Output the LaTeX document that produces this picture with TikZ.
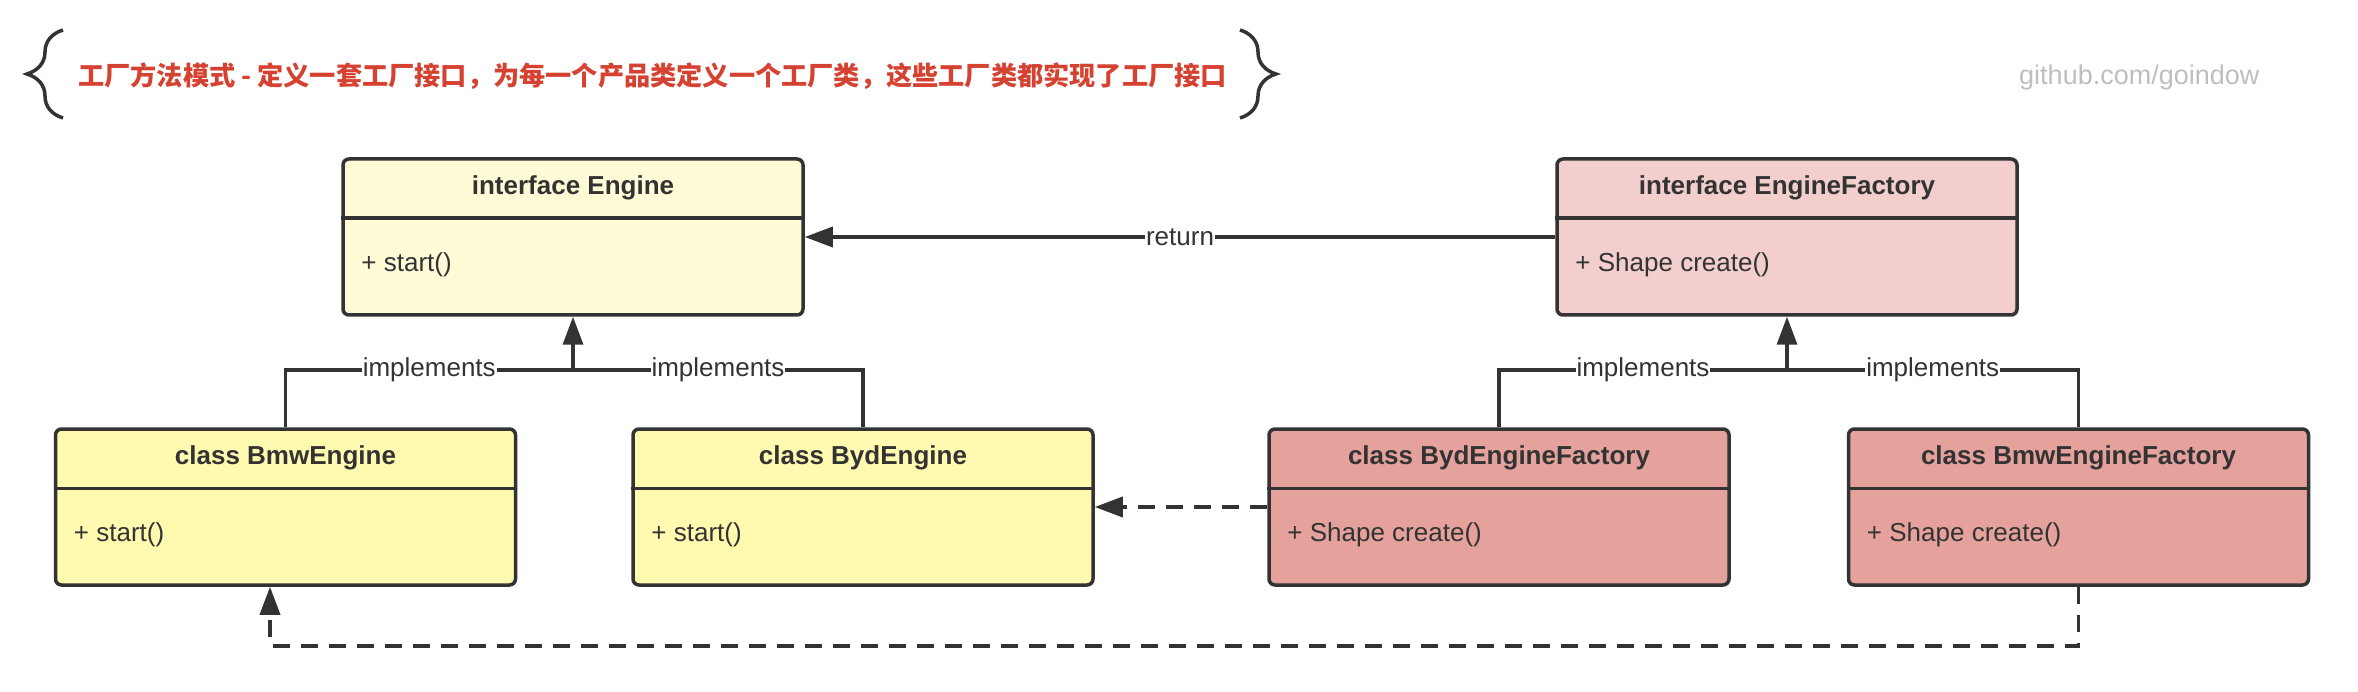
\documentclass[tikz,border=0pt]{standalone}
\usepackage{fontspec}
\setmainfont{Liberation Sans}
\newfontfamily\cjk{Noto Sans CJK SC}
\usetikzlibrary{positioning, arrows.meta, decorations.pathreplacing}
\definecolor{linegray}{RGB}{51,51,51}
\definecolor{ifaceyellow}{RGB}{255,251,214}
\definecolor{classyellow}{RGB}{255,250,175}
\definecolor{ifacered}{RGB}{242,206,205}
\definecolor{classred}{RGB}{229,161,156}
\definecolor{titlered}{RGB}{214,66,50}
\definecolor{markgray}{RGB}{190,190,190}
\tikzset{
>={Triangle[length=28pt,width=20pt]}, % filled triangle heads
every node/.style={font=\fontsize{26}{30}\selectfont, text=linegray},
classbox/.style={draw=linegray, line width=3.5pt, rounded corners=6pt, minimum width=460pt, minimum height=156pt, inner sep=0pt},
classname/.style={font=\fontsize{26}{30}\selectfont\bfseries},
member/.style={anchor=west, inner sep=0pt},
link/.style={draw=linegray, line width=3.5pt},
dep/.style={link, dash pattern=on 17pt off 11pt},
tag/.style={fill=white, inner sep=1pt},
}

\begin{document}
\begin{tikzpicture}[x=1pt, y=-1pt]
\useasboundingbox (0,0) rectangle (2358,692);

% heading
\node[anchor=west, inner sep=0pt, text=titlered, font=\cjk\bfseries\fontsize{26.2}{30}\selectfont] (headline) at (78,76) {工厂方法模式 - 定义一套工厂接口，为每一个产品类定义一个工厂类，这些工厂类都实现了工厂接口};
\draw[link, decorate, decoration={brace, amplitude=36pt}] (63,118) -- (63,30);
\draw[link, decorate, decoration={brace, amplitude=36pt}] (1240,30) -- (1240,118);
\node[anchor=west, inner sep=0pt, text=markgray, font=\fontsize{27}{30}\selectfont] (site) at (2019,78) {github.com/goindow};

% interfaces
\node[classbox, fill=ifaceyellow] (engine) at (573,237) {};
\node[classbox, fill=ifacered] (factory) at (1787,237) {};

% implementations
\node[classbox, fill=classyellow] (bmwengine) at (285.5,507) {};
\node[classbox, fill=classyellow, right=114pt of bmwengine] (bydengine) {};
\node[classbox, fill=classred] (bydfactory) at (1499,507) {};
\node[classbox, fill=classred, right=116pt of bydfactory] (bmwfactory) {};

\foreach \cls/\title/\op in {engine/interface Engine/+ start(),
    factory/interface EngineFactory/+ Shape create(),
    bmwengine/class BmwEngine/+ start(),
    bydengine/class BydEngine/+ start(),
    bydfactory/class BydEngineFactory/+ Shape create(),
    bmwfactory/class BmwEngineFactory/+ Shape create()} {
  \node[classname] (\cls-title) at ([yshift=-30.5pt]\cls.north) {\title};
  \draw[link] ([yshift=-61pt]\cls.north west) -- ([yshift=-61pt]\cls.north east);
  \node[member] (\cls-op) at ([xshift=20pt,yshift=-108pt]\cls.north west) {\op};
}

% connectors
\coordinate (ejoin) at ([yshift=57pt]engine.south |- bmwengine.north);
\coordinate (fjoin) at ([yshift=57pt]factory.south |- bydfactory.north);
\coordinate (bend) at ([xshift=-15.5pt,yshift=-59pt]bmwengine.south);

\draw[link] (bmwengine.north) |- node[tag, pos=0.75] {implements} (ejoin);
\draw[link] (bydengine.north) |- node[tag, pos=0.75] {implements} (ejoin);
\draw[link, ->] (ejoin) -- (engine.south);
\draw[link] (bydfactory.north) |- node[tag, pos=0.75] {implements} (fjoin);
\draw[link] (bmwfactory.north) |- node[tag, pos=0.75] {implements} (fjoin);
\draw[link, ->] (fjoin) -- (factory.south);
\draw[link, ->] (factory.west) -- node[tag] {return} (engine.east);
\draw[dep, ->] (bydfactory.west) -- (bydengine.east);
\draw[dep, ->] (bmwfactory.south) |- (bend) -- ([xshift=-15.5pt]bmwengine.south);
\end{tikzpicture}
\end{document}
